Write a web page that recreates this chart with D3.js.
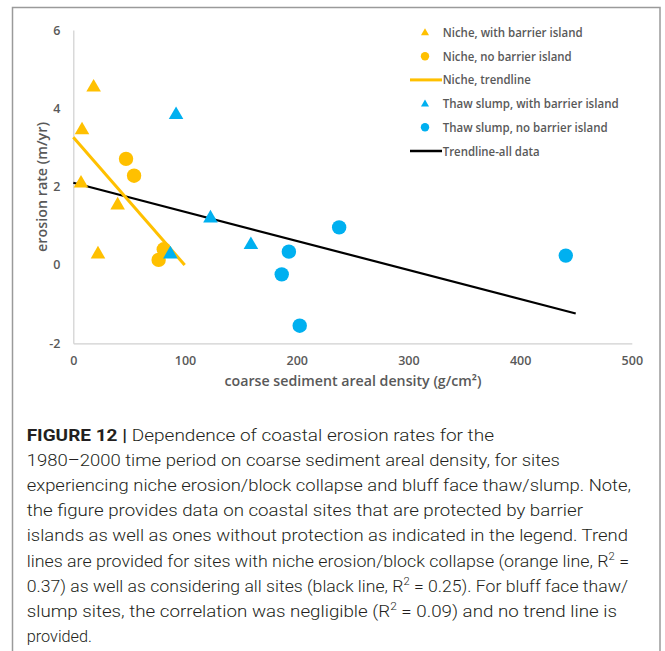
<!DOCTYPE html>
<html><head><meta charset="utf-8">
<script src="https://cdn.jsdelivr.net/npm/d3@7"></script>
<style>
html,body{margin:0;padding:0;background:#fff;}
svg{display:block;}
</style></head>
<body>
<svg id="chart" width="665" height="651"></svg>
<script>
// ---- data ----
const nicheWithBarrier = [[18.2,4.56],[7.8,3.47],[6.9,2.11],[39.7,1.55],[22.1,0.30]];
const nicheNoBarrier   = [[47.2,2.71],[54.4,2.28],[81.0,0.40],[76.4,0.13]];
const thawWithBarrier  = [[92.0,3.86],[122.8,1.22],[159.0,0.54],[86.9,0.30]];
const thawNoBarrier    = [[193.0,0.34],[186.6,-0.24],[202.7,-1.55],[238.0,0.96],[440.9,0.24]];
const nicheTrend = [[0,3.26],[99.7,0.0]];
const allTrend   = [[0,2.10],[449.8,-1.24]];
const xTicks = [0,100,200,300,400,500];
const yTicks = [-2,0,2,4,6];
const xTitle = "coarse sediment areal density (g/cm²)";
const yTitle = "erosion rate (m/yr)";
const legendLabels = ["Niche, with barrier island","Niche, no barrier island","Niche, trendline",
  "Thaw slump, with barrier island","Thaw slump, no barrier island","Trendline-all data"];
const captionLines = [
  [["b","FIGURE 12 | "],["n","Dependence of coastal erosion rates for the"]],
  [["n","1980–2000 time period on coarse sediment areal density, for sites"]],
  [["n","experiencing niche erosion/block collapse and bluff face thaw/slump. Note,"]],
  [["n","the figure provides data on coastal sites that are protected by barrier"]],
  [["n","islands as well as ones without protection as indicated in the legend. Trend"]],
  [["n","lines are provided for sites with niche erosion/block collapse (orange line, R"],["s","2"],["n"," ="]],
  [["n","0.37) as well as considering all sites (black line, R"],["s","2"],["n"," = 0.25). For bluff face thaw/"]],
  [["n","slump sites, the correlation was negligible (R"],["s","2"],["n"," = 0.09) and no trend line is"]],
  [["n","provided."]]
];

// ---- styles / layout ----
const ORANGE = "#FFC000", BLUE = "#00B0F0", GRAY = "#595959";
const svg = d3.select("#chart");
const x = d3.scaleLinear().domain([0,500]).range([73.3,631.8]);
const y = d3.scaleLinear().domain([-2,6]).range([343.3,30]);

// frame
svg.append("rect").attr("x",12.5).attr("y",7.5).attr("width",647.5).attr("height",700)
  .attr("fill","none").attr("stroke","#9a9a9a").attr("stroke-width",1.5);

// axes
const labelFont = "'Open Sans', sans-serif";
const fmt = d => String(d);
const xAxis = svg.append("g").attr("transform",`translate(0,${y(-2)})`)
  .call(d3.axisBottom(x).tickValues(xTicks).tickSize(0).tickPadding(13).tickFormat(fmt));
const yAxis = svg.append("g").attr("transform",`translate(${x(0)},0)`)
  .call(d3.axisLeft(y).tickValues(yTicks).tickSize(0).tickPadding(13).tickFormat(fmt));
[xAxis,yAxis].forEach(g=>{
  g.select(".domain").attr("stroke","#d0d0d0").attr("stroke-width",1.2);
  g.selectAll("text").attr("fill",GRAY).style("font-family",labelFont)
   .style("font-weight","600").style("font-size","12.5px");
});

svg.append("text").attr("x",353).attr("y",386).attr("text-anchor","middle")
  .attr("textLength",257).attr("lengthAdjust","spacingAndGlyphs")
  .style("font-family",labelFont).style("font-weight","600").style("font-size","14.5px")
  .attr("fill",GRAY).text(xTitle);
svg.append("text").attr("transform","translate(47,187) rotate(-90)").attr("text-anchor","middle")
  .attr("textLength",130).attr("lengthAdjust","spacingAndGlyphs")
  .style("font-family",labelFont).style("font-weight","600").style("font-size","14.5px")
  .attr("fill",GRAY).text(yTitle);

// trendlines
const line = d3.line().x(d=>x(d[0])).y(d=>y(d[1]));
svg.append("path").datum(allTrend).attr("d",line).attr("stroke","#000").attr("stroke-width",2.2).attr("fill","none");
svg.append("path").datum(nicheTrend).attr("d",line).attr("stroke",ORANGE).attr("stroke-width",3).attr("fill","none");

// markers
const tri = d3.symbol().type(d3.symbolTriangle).size(92);
function triangles(data,color){
  svg.append("g").selectAll("path").data(data).join("path")
    .attr("d",tri).attr("transform",d=>`translate(${x(d[0])},${y(d[1])+1})`).attr("fill",color);
}
function circles(data,color){
  svg.append("g").selectAll("circle").data(data).join("circle")
    .attr("cx",d=>x(d[0])).attr("cy",d=>y(d[1])).attr("r",7.2).attr("fill",color);
}
triangles(nicheWithBarrier,ORANGE);
circles(nicheNoBarrier,ORANGE);
triangles(thawWithBarrier,BLUE);
circles(thawNoBarrier,BLUE);

// legend
const legendW = [140,129,88,176,165,97];
const legendTypes = [["tri",ORANGE],["circ",ORANGE],["line",ORANGE],["tri",BLUE],["circ",BLUE],["line","#000"]];
const lg = svg.append("g");
legendLabels.forEach((lab,i)=>{
  const cy = 32.5 + i*23.7;
  const [t,c] = legendTypes[i];
  if(t==="tri") lg.append("path").attr("d",d3.symbol().type(d3.symbolTriangle).size(28)).attr("transform",`translate(425,${cy+0.5})`).attr("fill",c);
  else if(t==="circ") lg.append("circle").attr("cx",425).attr("cy",cy).attr("r",4.2).attr("fill",c);
  else lg.append("line").attr("x1",410).attr("x2",442).attr("y1",cy).attr("y2",cy).attr("stroke",c).attr("stroke-width",c==="#000"?2.5:3);
  lg.append("text").attr("x",442.7).attr("y",cy+4.5).attr("textLength",legendW[i]).attr("lengthAdjust","spacingAndGlyphs")
    .style("font-family",labelFont).style("font-weight","600").style("font-size","12.5px").attr("fill",GRAY).text(lab);
});

// caption
const capEnds = [494,560,631,583,628,629,628,617,92];
const capX = 26.7;
captionLines.forEach((parts,i)=>{
  const t = svg.append("text").attr("x",capX).attr("y",441 + i*25.1)
    .attr("textLength",capEnds[i]-capX).attr("lengthAdjust","spacingAndGlyphs")
    .style("font-family","Roboto, 'Liberation Sans', sans-serif").style("font-size","16.5px")
    .style("font-weight","300").attr("fill","#231f20");
  parts.forEach(([k,s])=>{
    const ts = t.append("tspan").text(s);
    if(k==="b") ts.style("font-weight","700");
    if(k==="s") ts.style("font-size","10.5px").attr("baseline-shift","7");
  });
});
</script>
</body></html>
